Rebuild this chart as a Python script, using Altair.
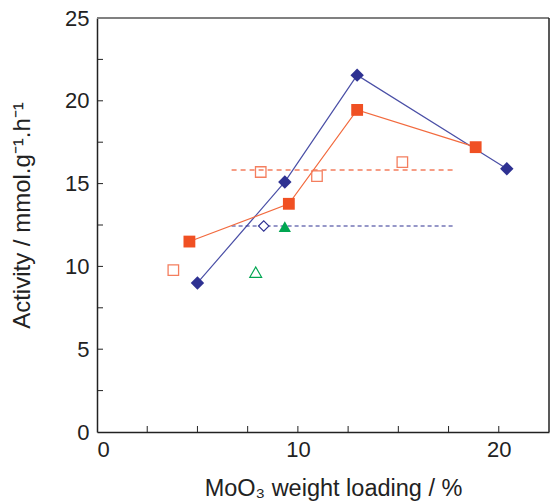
import altair as alt
import pandas as pd

# Series data
blue_x = [5.0, 9.35, 12.95, 20.4]
blue_y = [9.0, 15.1, 21.55, 15.9]

orange_x = [4.6, 9.55, 12.95, 18.85]
orange_y = [11.5, 13.78, 19.45, 17.2]

open_sq_x = [3.8, 8.15, 10.95, 15.2]
open_sq_y = [9.78, 15.7, 15.45, 16.3]

open_dia_x = [8.3]
open_dia_y = [12.44]

green_fill_x = [9.35]
green_fill_y = [12.4]

green_open_x = [7.9]
green_open_y = [9.65]

dash_orange = {"x": 6.7, "x2": 17.8, "y": 15.82}
dash_blue = {"x": 6.7, "x2": 17.8, "y": 12.44}

x_ticks = [0, 10, 20]
y_ticks = [0, 5, 10, 15, 20, 25]
x_minor = [2.5, 5, 7.5, 10, 12.5, 15, 17.5, 20]
y_minor = [2.5, 5, 7.5, 10, 12.5, 15, 17.5, 20, 22.5]

BLUE = "#2E3192"
BLUE_LINE = "#4A4FA6"
ORANGE = "#F05023"
ORANGE_LINE = "#F26A3E"
ORANGE_OPEN = "#F47E5E"
GREEN = "#00A651"

W, H = 452, 414
FONT = "Liberation Sans"

xs = alt.Scale(domain=[0, 22.5], nice=False, zero=False)
ys = alt.Scale(domain=[0, 25], nice=False, zero=False)

xaxis = alt.Axis(
    values=x_ticks, title="MoO₃ weight loading / %", tickSize=0, labelPadding=7,
    labelFontSize=22, titleFontSize=23.5, titlePadding=16, grid=False, titleX=236,
    domainColor="#222222", domainWidth=1.5, labelColor="#222222", titleColor="#222222",
    labelFont=FONT, titleFont=FONT, labelFontWeight="normal", titleFontWeight="normal")
yaxis = alt.Axis(
    values=y_ticks, title="Activity / mmol.g⁻¹.h⁻¹", tickSize=0, labelPadding=8,
    labelFontSize=22, titleFontSize=24, titlePadding=30, grid=False, titleY=197,
    domainColor="#222222", domainWidth=1.5, labelColor="#222222", titleColor="#222222",
    labelFont=FONT, titleFont=FONT, labelFontWeight="normal", titleFontWeight="normal")


def X(field="x"):
    return alt.X(f"{field}:Q", scale=xs, axis=xaxis)


def Y(field="y"):
    return alt.Y(f"{field}:Q", scale=ys, axis=yaxis)


blue_df = pd.DataFrame({"x": blue_x, "y": blue_y})
orange_df = pd.DataFrame({"x": orange_x, "y": orange_y})

dash_o = alt.Chart(pd.DataFrame([dash_orange])).mark_rule(
    color=ORANGE_OPEN, strokeDash=[5, 4], strokeWidth=1.3).encode(
    x=X(), x2="x2:Q", y=Y())
dash_b = alt.Chart(pd.DataFrame([dash_blue])).mark_rule(
    color=BLUE, strokeDash=[4, 3], strokeWidth=1.1).encode(
    x=X(), x2="x2:Q", y=Y())

blue_line = alt.Chart(blue_df).mark_line(color=BLUE_LINE, strokeWidth=1.2).encode(
    x=X(), y=Y())
orange_line = alt.Chart(orange_df).mark_line(color=ORANGE_LINE, strokeWidth=1.2).encode(
    x=X(), y=Y())

blue_pts = alt.Chart(blue_df).mark_point(
    shape="diamond", filled=True, color=BLUE, size=180, opacity=1).encode(x=X(), y=Y())
orange_pts = alt.Chart(orange_df).mark_point(
    shape="square", filled=True, color=ORANGE, size=140, opacity=1).encode(x=X(), y=Y())

open_sq = alt.Chart(pd.DataFrame({"x": open_sq_x, "y": open_sq_y})).mark_point(
    shape="square", filled=False, color=ORANGE_OPEN, size=110, strokeWidth=1.3,
    opacity=1).encode(x=X(), y=Y())
open_dia = alt.Chart(pd.DataFrame({"x": open_dia_x, "y": open_dia_y})).mark_point(
    shape="diamond", filled=False, color=BLUE, size=110, strokeWidth=1.1,
    opacity=1, fill="white").encode(x=X(), y=Y())
green_fill = alt.Chart(pd.DataFrame({"x": green_fill_x, "y": green_fill_y})).mark_point(
    shape="triangle-up", filled=True, color=GREEN, size=150, opacity=1).encode(
    x=X(), y=Y())
green_open = alt.Chart(pd.DataFrame({"x": green_open_x, "y": green_open_y})).mark_point(
    shape="triangle-up", filled=False, color=GREEN, size=140, strokeWidth=1.2,
    opacity=1).encode(x=X(), y=Y())

# inward ticks
y_tick_marks = alt.Chart(pd.DataFrame({"y": y_minor})).mark_rule(
    color="#222222", strokeWidth=1).encode(
    y=Y(), x=alt.value(0), x2=alt.value(6))
x_tick_marks = alt.Chart(pd.DataFrame({"x": x_minor})).mark_rule(
    color="#222222", strokeWidth=1).encode(
    x=X(), y=alt.value(H), y2=alt.value(H - 6))

# frame top (gray) and right (dark)
top_border = alt.Chart(pd.DataFrame({"a": [0]})).mark_rule(
    color="#808080", strokeWidth=2).encode(
    x=alt.value(0), x2=alt.value(W), y=alt.value(0))
right_border = alt.Chart(pd.DataFrame({"a": [0]})).mark_rule(
    color="#222222", strokeWidth=1.5).encode(
    x=alt.value(W), y=alt.value(0), y2=alt.value(H))

chart = alt.layer(
    blue_line, dash_o, dash_b, orange_line,
    y_tick_marks, x_tick_marks, top_border, right_border,
    open_sq, open_dia, green_open, green_fill, blue_pts, orange_pts,
).properties(
    width=W, height=H,
    autosize=alt.AutoSizeParams(type="none"),
    padding={"left": 97, "top": 18, "right": 2, "bottom": 70},
    background="white",
).configure_view(stroke=None)

chart.save("out.html", embed_options={"renderer": "svg", "actions": False})
